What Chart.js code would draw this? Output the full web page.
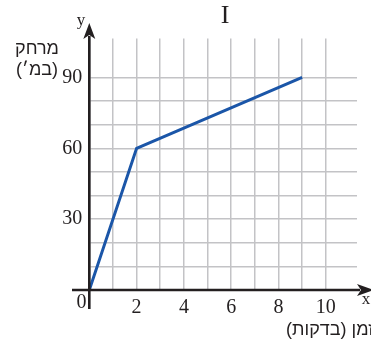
<!DOCTYPE html>
<html>
<head>
<meta charset="utf-8">
<script src="https://cdn.jsdelivr.net/npm/chart.js@4"></script>
<style>
  html, body { margin: 0; padding: 0; background: #fff; }
  #wrap { width: 371px; height: 344px; }
</style>
</head>
<body>
<div id="wrap"><canvas id="myChart" width="371" height="344"></canvas></div>
<script>
// distance over time, piecewise
const timeMin = [0, 2, 9];
const distance = [0, 60, 90];
const xLabels = [2, 4, 6, 8, 10];
const yLabels = [30, 60, 90];

const ink = '#231f20';
const serif = '"Liberation Serif", "DejaVu Serif", serif';
const sans = '"Liberation Sans", "DejaVu Sans", sans-serif';

const points = timeMin.map((t, i) => ({ x: t, y: distance[i] }));

// keep only whole-number grid lines
function wholeTicks(axis) {
    axis.ticks = axis.ticks.filter(t => Math.abs(t.value - Math.round(t.value)) < 1e-6);
}

const axesAndText = {
    id: 'axesAndText',
    afterDatasetsDraw(chart) {
        const ctx = chart.ctx;
        const xs = chart.scales.x, ys = chart.scales.y;
        const x0 = xs.getPixelForValue(0);
        const y0 = ys.getPixelForValue(0);
        ctx.save();
        ctx.strokeStyle = ink;
        ctx.fillStyle = ink;
        ctx.lineWidth = 2.6;

        // y axis with arrow
        ctx.beginPath();
        ctx.moveTo(x0, 309);
        ctx.lineTo(x0, 36);
        ctx.stroke();
        ctx.beginPath();
        ctx.moveTo(x0, 23);
        ctx.lineTo(x0 + 6, 39);
        ctx.lineTo(x0, 35);
        ctx.lineTo(x0 - 6, 39);
        ctx.closePath();
        ctx.fill();

        // x axis with arrow
        ctx.beginPath();
        ctx.moveTo(72, y0);
        ctx.lineTo(360, y0);
        ctx.stroke();
        ctx.beginPath();
        ctx.moveTo(374, y0);
        ctx.lineTo(357, y0 - 6);
        ctx.lineTo(361, y0);
        ctx.lineTo(357, y0 + 6);
        ctx.closePath();
        ctx.fill();

        // origin, axis letters, title
        ctx.textAlign = 'center';
        ctx.textBaseline = 'middle';
        ctx.font = '20px ' + serif;
        ctx.fillText('0', 81.5, 303);
        ctx.font = '17px ' + serif;
        ctx.fillText('y', 81, 21);
        ctx.fillText('x', 366, 300);
        ctx.font = '26px ' + serif;
        ctx.fillText('I', 225, 16);

        // hebrew axis titles
        ctx.direction = 'rtl';
        ctx.font = '18px ' + sans;
        ctx.fillText('מרחק', 37, 49);
        ctx.fillText('(במ׳)', 37, 70);
        ctx.textAlign = 'right';
        ctx.fillText('זמן (בדקות)', 374, 330);
        ctx.restore();
    }
};

new Chart(document.getElementById('myChart'), {
    type: 'scatter',
    data: {
        datasets: [{
            data: points,
            showLine: true,
            borderColor: '#1b56a8',
            borderWidth: 3,
            pointRadius: 0,
            tension: 0
        }]
    },
    options: {
        responsive: false,
        animation: false,
        layout: { padding: { left: 0, right: 14, top: 38.5, bottom: 0 } },
        plugins: { legend: { display: false }, tooltip: { enabled: false } },
        scales: {
            x: {
                type: 'linear',
                min: 0,
                max: 11.32,
                afterBuildTicks: wholeTicks,
                afterFit: s => { s.height = 54; },
                border: { display: false },
                grid: { color: '#c3c3c6', lineWidth: 1.5, drawTicks: false },
                ticks: {
                    stepSize: 1,
                    padding: 6,
                    color: ink,
                    font: { family: serif, size: 20 },
                    maxRotation: 0,
                    autoSkip: false,
                    callback: v => xLabels.includes(v) ? String(v) : ''
                }
            },
            y: {
                type: 'linear',
                min: 0,
                max: 106.5,
                afterBuildTicks: wholeTicks,
                afterFit: s => { s.width = 89.3; },
                border: { display: false },
                grid: { color: '#c3c3c6', lineWidth: 1.5, drawTicks: false },
                ticks: {
                    stepSize: 10,
                    padding: 7,
                    color: ink,
                    font: { family: serif, size: 20 },
                    autoSkip: false,
                    callback: v => yLabels.includes(v) ? String(v) : ''
                }
            }
        }
    },
    plugins: [axesAndText]
});
</script>
</body>
</html>
